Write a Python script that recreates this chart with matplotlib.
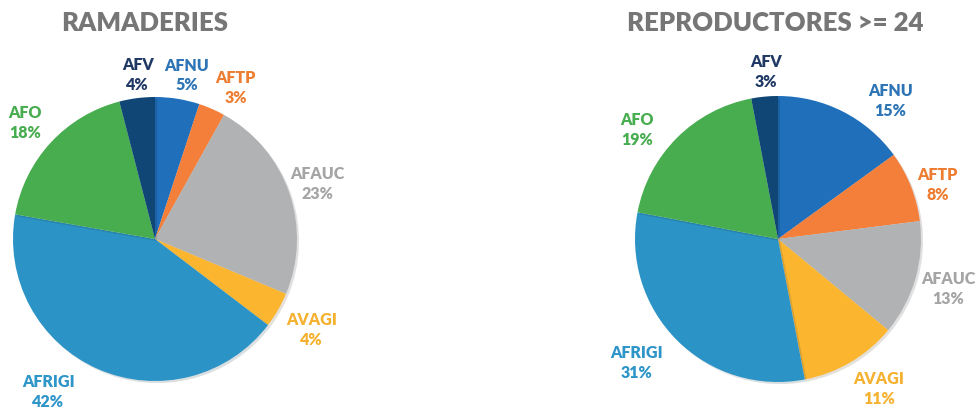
import numpy as np
import matplotlib
matplotlib.use('Agg')
import matplotlib.pyplot as plt
import matplotlib.patheffects as pe

# data
categories = ['AFNU', 'AFTP', 'AFAUC', 'AVAGI', 'AFRIGI', 'AFO', 'AFV']
ramaderies = [5, 3, 23, 4, 42, 18, 4]
reproductors = [15, 8, 13, 11, 31, 19, 3]

wedge_colors = ['#1f6fba', '#f37f3b', '#b1b2b4', '#fbb52f', '#2b93c6', '#47ad4f', '#0f4676']
text_colors = ['#2e75b6', '#ed7d31', '#a5a5a5', '#f5b130', '#2e95c8', '#47ad4f', '#203864']

# label placement (angle in degrees, distance in radii) - mimics excel best fit
left_lbl = [(79, 1.18), (62, 1.21), (19, 1.21), (-30, 1.27), (235, 1.31), (138, 1.23), (96, 1.17)]
right_lbl = [(51, 1.25), (19, 1.18), (-16, 1.24), (-56, 1.26), (221, 1.31), (142, 1.25), (94, 1.18)]

plt.rcParams['font.family'] = ['Lato', 'DejaVu Sans']

W, H = 976, 410
fig = plt.figure(figsize=(W / 100, H / 100), dpi=100)
ax = fig.add_axes([0, 0, 1, 1])


def draw_pie(values, center, radius, lbl, title, title_x):
    wedges, _ = ax.pie(values, colors=wedge_colors, startangle=90, counterclock=False,
                       center=center, radius=radius, frame=True,
                       wedgeprops=dict(linewidth=0))
    for w in wedges:
        w.set_path_effects([pe.SimplePatchShadow(offset=(1.5, -1.5), alpha=0.15), pe.Normal()])
    for i, (ang, d) in enumerate(lbl):
        a = np.deg2rad(ang)
        x = center[0] + d * radius * np.cos(a)
        y = center[1] + d * radius * np.sin(a)
        ax.text(x, y, '{}\n{}%'.format(categories[i], values[i]), ha='center', va='center',
                fontsize=11.5, fontweight='heavy', color=text_colors[i], linespacing=1.3)
    ax.text(title_x, H - 23, title, ha='center', va='center', fontsize=18.5,
            fontweight='heavy', color='#767676')


draw_pie(ramaderies, (155, H - 240), 142, left_lbl, 'RAMADERIES', 145)
draw_pie(reproductors, (778, H - 240), 143, right_lbl, 'REPRODUCTORES >= 24', 775)

ax.set_xlim(0, W)
ax.set_ylim(0, H)
ax.set_aspect('equal')
ax.axis('off')

fig.savefig('out.png', dpi=100)
